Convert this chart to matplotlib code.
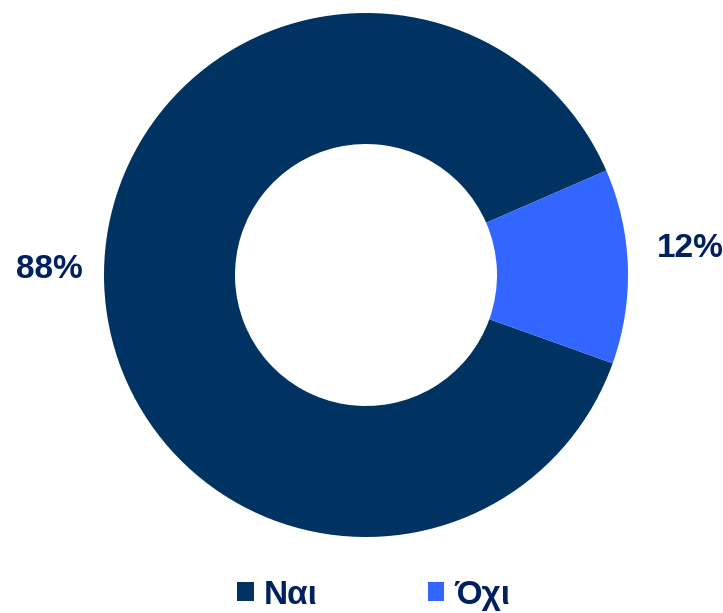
import matplotlib.pyplot as plt
from matplotlib.patches import Patch

plt.rcParams['font.family'] = ['Liberation Sans', 'DejaVu Sans']

# Απαντήσεις (%)
labels = ['Ναι', 'Όχι']
values = [88, 12]
colors = ['#003361', '#3366FF']
text_color = '#002060'

fig = plt.figure(figsize=(7.23, 6.13), dpi=100)
# pie area: centre ~ (366, 275) px, radius ~262 px
cx, cy, r = 366, 275, 262
W, H = 723, 613
ax = fig.add_axes([(cx - r) / W, (H - cy - r) / H, 2 * r / W, 2 * r / H])

wedges, texts, autotexts = ax.pie(
    values, colors=colors, startangle=23.5, counterclock=True,
    radius=1.0, wedgeprops=dict(width=0.5, edgecolor='none'),
    autopct='%1.0f%%', pctdistance=1.225,
    textprops=dict(fontsize=24, fontweight='bold', color=text_color))

# nudge the percentage labels up and slightly right
for t in autotexts:
    x, y = t.get_position()
    t.set_position((x + 0.014, y + 0.06))

ax.set_xlim(-1, 1)
ax.set_ylim(-1, 1)
ax.set_aspect('equal')
ax.axis('off')

handles = [Patch(facecolor=c, edgecolor='none', label=l) for c, l in zip(colors, labels)]
leg = fig.legend(handles=handles, loc='center', bbox_to_anchor=(0.517, 0.029),
                 ncol=2, frameon=False,
                 handlelength=0.5, handleheight=0.5, handletextpad=0.3,
                 columnspacing=3.3,
                 prop=dict(size=24, weight='bold'))
for t in leg.get_texts():
    t.set_color(text_color)

fig.savefig('out.png', dpi=100)
